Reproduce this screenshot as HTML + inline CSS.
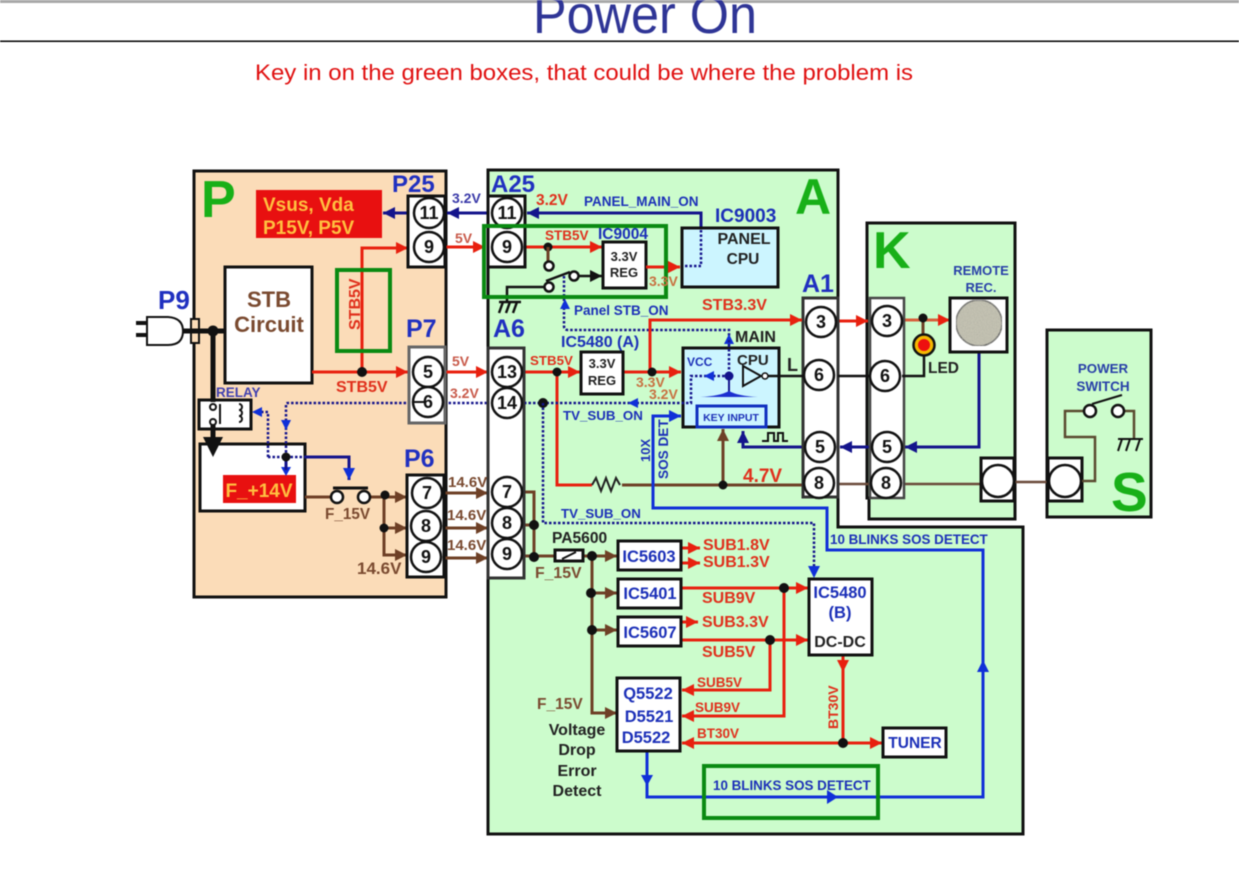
<!DOCTYPE html>
<html><head><meta charset="utf-8"><style>
html,body{margin:0;padding:0;background:#fff;width:1239px;height:872px;overflow:hidden}
svg{display:block;position:absolute;left:0;top:0;filter:blur(.4px)}
text{font-family:"Liberation Sans",sans-serif}
.b{font-weight:bold}
.bl{fill:#1c30b8;font-weight:bold}
.rd{fill:#e0301c;font-weight:bold}
.br{fill:#7a4a30;font-weight:bold}
.k{fill:#222;font-weight:bold}
.big{fill:#18b018;font-weight:bold}
.hd{fill:#2030c0;font-weight:bold;font-size:25px}
.c circle{fill:#fff;stroke:#111;stroke-width:2.5}
.c text{font-weight:bold;font-size:18px;text-anchor:middle;fill:#111}
.box{fill:#fff;stroke:#111;stroke-width:3}
.m{text-anchor:middle}
.R{stroke:#e8200f;stroke-width:3;fill:none}
.N{stroke:#14148c;stroke-width:3;fill:none}
.B{stroke:#1030d8;stroke-width:3;fill:none}
.W{stroke:#6e4026;stroke-width:3;fill:none}
.K{stroke:#111;stroke-width:2.5;fill:none}
.Dot{stroke:#14148c;stroke-width:2.5;stroke-dasharray:2.5 2;fill:none}
.G{fill:none;stroke:#0a8a12;stroke-width:4}
</style></head><body>
<svg width="1239" height="872" viewBox="0 0 1239 872" xmlns="http://www.w3.org/2000/svg">
<defs>
<marker id="mr" viewBox="0 0 10 10" refX="10" refY="5" markerUnits="userSpaceOnUse" markerWidth="12" markerHeight="13" orient="auto"><path d="M0 0L10 5L0 10z" fill="#e8200f"/></marker>
<marker id="mn" viewBox="0 0 10 10" refX="10" refY="5" markerUnits="userSpaceOnUse" markerWidth="12" markerHeight="13" orient="auto"><path d="M0 0L10 5L0 10z" fill="#14148c"/></marker>
<marker id="mb" viewBox="0 0 10 10" refX="10" refY="5" markerUnits="userSpaceOnUse" markerWidth="12" markerHeight="13" orient="auto"><path d="M0 0L10 5L0 10z" fill="#1030d8"/></marker>
<marker id="mw" viewBox="0 0 10 10" refX="10" refY="5" markerUnits="userSpaceOnUse" markerWidth="12" markerHeight="13" orient="auto"><path d="M0 0L10 5L0 10z" fill="#6e4026"/></marker>
<marker id="mk" viewBox="0 0 10 10" refX="10" refY="5" markerUnits="userSpaceOnUse" markerWidth="12" markerHeight="13" orient="auto"><path d="M0 0L10 5L0 10z" fill="#111"/></marker>
<filter id="speck" x="0" y="0" width="100%" height="100%"><feTurbulence type="fractalNoise" baseFrequency="0.9" numOctaves="2" seed="4"/><feColorMatrix values="0 0 0 0 .42  0 0 0 0 .42  0 0 0 0 .36  1.6 0 0 0 -.55"/><feComposite in2="SourceAlpha" operator="in" result="n"/><feMerge><feMergeNode in="SourceGraphic"/><feMergeNode in="n"/></feMerge></filter>
</defs>

<!-- header -->
<rect x="0" y="0" width="1239" height="3" fill="#a8a8a8"/>
<text x="533" y="33" font-size="54" fill="#2f3596" textLength="224" lengthAdjust="spacingAndGlyphs">Power On</text>
<rect x="0" y="40.5" width="1239" height="1.5" fill="#000"/>
<text x="255" y="80" font-size="22" fill="#e01010" textLength="658" lengthAdjust="spacingAndGlyphs">Key in on the green boxes, that could be where the problem is</text>

<!-- panels -->
<rect x="194" y="171" width="252" height="426" fill="#fbdcb8" stroke="#111" stroke-width="3"/>
<path d="M488 170H838V527H1023V834H488Z" fill="#ccfccc" stroke="#111" stroke-width="3"/>
<path d="M867 223H1015V519H869V498H867Z" fill="#ccfccc" stroke="#111" stroke-width="3"/>
<rect x="1047" y="330" width="104" height="187" fill="#ccfccc" stroke="#111" stroke-width="3"/>

<text x="201" y="217" font-size="52" class="big">P</text>
<text x="795" y="214" font-size="50" class="big">A</text>
<text x="873" y="268" font-size="52" class="big">K</text>
<text x="1111" y="511" font-size="55" class="big">S</text>

<!-- P panel boxes -->
<rect x="256" y="190" width="126" height="48" fill="#e81010"/>
<text x="263" y="211" font-size="19" class="b" fill="#ffc040">Vsus, Vda</text>
<text x="263" y="234" font-size="19" class="b" fill="#ffc040">P15V, P5V</text>
<rect x="225" y="267" width="87" height="116" class="box"/>
<text x="269" y="307" font-size="22" class="br m">STB</text>
<text x="269" y="332" font-size="22" class="br m">Circuit</text>
<rect x="200" y="444" width="105" height="67" class="box"/>
<rect x="223" y="475" width="73" height="28" fill="#e81010"/>
<text x="259" y="497" font-size="19" class="b m" fill="#ffc040">F_+14V</text>
<rect x="199" y="400" width="52" height="29" class="box"/>
<text x="216" y="397" font-size="13.5" class="b" fill="#4040b0">RELAY</text>

<!-- plug -->
<path d="M136 323H147M136 335H147" stroke="#111" stroke-width="4"/>
<path d="M147 317H168Q183 318 183 331Q183 345 168 345H147Z" fill="#fff" stroke="#111" stroke-width="2"/>
<rect x="191" y="319" width="8" height="24" fill="#fbdcb8" stroke="#111" stroke-width="2"/>
<path d="M183 331H225M213 331V402" stroke="#111" stroke-width="5" fill="none"/>
<circle cx="213" cy="331" r="5.5" fill="#111"/>
<circle cx="213" cy="407" r="3" fill="#fff" stroke="#111" stroke-width="2"/>
<circle cx="213" cy="422" r="3" fill="#fff" stroke="#111" stroke-width="2"/>
<path d="M220 404V424" stroke="#111" stroke-width="2"/>
<path d="M239 404a3 3 0 0 1 0 6a3 3 0 0 1 0 6a3 3 0 0 1 0 6" fill="none" stroke="#111" stroke-width="2"/>
<path d="M213 425V440" stroke="#111" stroke-width="5"/>
<path d="M203 437H223L213 457Z" fill="#111"/>

<!-- dotted / blue in P -->
<g class="Dot">
<path d="M286 457V404Q286 403 288 403H488"/>
<path d="M268 457V412H255"/>
<path d="M268 457H305"/>
</g>
<path d="M252 412L262 407V417Z" fill="#1030d8"/>
<path d="M281 420H291L286 430Z" fill="#1030d8"/>
<path d="M281 467H291L286 476Z" fill="#1030d8"/>
<path d="M286 457V470" class="N"/>
<path d="M305 457H349V480" class="N" marker-end="url(#mb)"/>

<!-- red -->
<g class="R" marker-end="url(#mr)">
<path d="M312 372H408"/>
<path d="M362 372V248H408"/>
<path d="M445 247H485"/>
<path d="M445 372H488"/>
<path d="M525 247H602"/>
<path d="M646 267H680"/>
<path d="M525 372H580"/>
<path d="M623 372H681"/>
<path d="M838 321H868"/>
<path d="M681 548H700"/>
<path d="M681 563H700"/>
<path d="M681 622H698"/>
<path d="M681 588H808"/>
<path d="M681 640H808"/>
<path d="M784 588V716H682"/>
<path d="M770 640V690H682"/>
<path d="M843 655V672"/>
<path d="M843 743H882"/>
<path d="M843 743H682"/>
</g>
<path d="M843 655V743" class="R"/>
<path d="M557 372V485H592" class="R"/>
<path d="M902 320H950" stroke="#d8603c" stroke-width="3" fill="none" marker-end="url(#mr)"/>

<!-- navy -->
<g class="N" marker-end="url(#mn)">
<path d="M488 213H447"/>
<path d="M408 213H383"/>
<path d="M701 230V213H527"/>
<path d="M979 352V447H905"/>
<path d="M870 447H840"/>
<path d="M803 447H743V431"/>
</g>

<!-- brown -->
<g class="W" marker-end="url(#mw)">
<path d="M370 497H407"/>
<path d="M384 497V528H407"/>
<path d="M384 528V555H407"/>
<path d="M444 493H488"/>
<path d="M444 528H488"/>
<path d="M444 558H488"/>
<path d="M723 485V429"/>
<path d="M583 556H617"/>
<path d="M592 593H617"/>
<path d="M592 630H617"/>
<path d="M592 556V713H617"/>
</g>
<path d="M305 497H331" class="W"/>
<circle cx="337" cy="497" r="6" fill="#fff" stroke="#111" stroke-width="2.5"/>
<circle cx="364" cy="497" r="6" fill="#fff" stroke="#111" stroke-width="2.5"/>
<path d="M333 488H368" stroke="#111" stroke-width="3"/>
<path d="M525 492H534V557M525 525H534M525 556H556" class="W"/>
<path d="M622 485H803" class="W"/>
<path d="M838 484H870M902 484H981M1014 482H1047" stroke="#6a4a3a" stroke-width="2.5" fill="none"/>

<!-- connectors boxes -->
<rect x="408" y="196" width="37" height="71" class="box"/>
<rect x="409" y="347" width="36" height="76" fill="#fff" stroke="#666" stroke-width="3"/>
<rect x="407" y="475" width="37" height="102" class="box"/>
<rect x="488" y="196" width="37" height="71" class="box"/>
<rect x="488" y="348" width="36" height="230" fill="#fff" stroke="#333" stroke-width="3"/>
<rect x="803" y="298" width="35" height="199" fill="#fff" stroke="#333" stroke-width="3"/>
<rect x="870" y="298" width="34" height="200" fill="#fff" stroke="#444" stroke-width="2.5"/>
<rect x="981" y="458" width="33" height="43" class="box"/>
<rect x="1048" y="458" width="34" height="43" class="box"/>
<circle cx="998" cy="481" r="16" fill="#fff" stroke="#111" stroke-width="2.5"/>
<circle cx="1065" cy="481" r="16" fill="#fff" stroke="#111" stroke-width="2.5"/>

<g class="c">
<circle cx="429" cy="213" r="15"/><text x="429" y="219">11</text>
<circle cx="429" cy="247" r="15"/><text x="429" y="253">9</text>
<circle cx="428" cy="372" r="15"/><text x="428" y="378">5</text>
<circle cx="428" cy="402" r="15"/><text x="428" y="408">6</text>
<circle cx="427" cy="493" r="15"/><text x="427" y="499">7</text>
<circle cx="426" cy="526" r="15"/><text x="426" y="532">8</text>
<circle cx="426" cy="557" r="15"/><text x="426" y="563">9</text>
<circle cx="507" cy="213" r="15"/><text x="507" y="219">11</text>
<circle cx="507" cy="247" r="15"/><text x="507" y="253">9</text>
<circle cx="507" cy="372" r="15"/><text x="507" y="378">13</text>
<circle cx="507" cy="403" r="15"/><text x="507" y="409">14</text>
<circle cx="507" cy="492" r="15"/><text x="507" y="498">7</text>
<circle cx="507" cy="523" r="15"/><text x="507" y="529">8</text>
<circle cx="507" cy="554" r="15"/><text x="507" y="560">9</text>
<circle cx="821" cy="322" r="15"/><text x="821" y="328">3</text>
<circle cx="819" cy="375" r="15"/><text x="819" y="381">6</text>
<circle cx="820" cy="447" r="15"/><text x="820" y="453">5</text>
<circle cx="819" cy="483" r="15"/><text x="819" y="489">8</text>
<circle cx="887" cy="321" r="15"/><text x="887" y="327">3</text>
<circle cx="885" cy="376" r="15"/><text x="885" y="382">6</text>
<circle cx="887" cy="447" r="15"/><text x="887" y="453">5</text>
<circle cx="886" cy="483" r="15"/><text x="886" y="489">8</text>
</g>
<path d="M412 402H424" stroke="#111" stroke-width="2"/>

<!-- IC9004 area -->
<circle cx="548" cy="247" r="4.5" fill="#111"/>
<path d="M548 247V262" class="W"/>
<circle cx="549" cy="266" r="4.5" fill="#fff" stroke="#111" stroke-width="2.5"/>
<circle cx="549" cy="287" r="4.5" fill="#fff" stroke="#111" stroke-width="2.5"/>
<circle cx="574" cy="276" r="4.5" fill="#fff" stroke="#111" stroke-width="2.5"/>
<path d="M546 281L570 272" stroke="#111" stroke-width="2.5"/>
<path d="M579 276H602" class="K" marker-end="url(#mk)"/>
<path d="M544 287H507V301" class="K"/>
<path d="M499 302H521M503 302L499 313M510 302L506 313M517 302L513 313" class="K" stroke-width="2"/>
<rect x="603" y="242" width="43" height="46" class="box"/>
<text x="624" y="261" font-size="13" class="k m">3.3V</text>
<text x="624" y="277" font-size="13" class="k m">REG</text>
<rect x="682" y="228" width="96" height="59" fill="#ccf5ff" stroke="#111" stroke-width="3"/>
<path d="M701 230V266H684" class="Dot"/>
<text x="744" y="244" font-size="16" class="k m">PANEL</text>
<text x="743" y="264" font-size="15.5" class="k m">CPU</text>
<path d="M646 267H680" class="R" marker-end="url(#mr)"/>

<!-- Panel STB_ON dotted -->
<path d="M564 276V326Q564 330 568 330H729V375" class="Dot"/>
<path d="M560 309L565 299L570 309Z" fill="#1030d8"/>
<path d="M724 344L729 334L734 344Z" fill="#1030d8"/>
<path d="M650 372V320H802" class="R" marker-end="url(#mr)"/>

<!-- REG 2 -->
<rect x="581" y="352" width="42" height="42" class="box"/>
<text x="602" y="368" font-size="13" class="k m">3.3V</text>
<text x="602" y="385" font-size="13" class="k m">REG</text>

<!-- MAIN CPU -->
<rect x="683" y="348" width="96" height="79" fill="#ccf5ff" stroke="#111" stroke-width="3"/>
<rect x="697" y="406" width="69" height="21" fill="#ccf5ff" stroke="#1030c0" stroke-width="3"/>
<text x="731" y="421" font-size="10.5" class="bl m">KEY INPUT</text>
<text x="687" y="366" font-size="12" class="bl">VCC</text>
<text x="737" y="365" font-size="15" class="k">CPU</text>
<text x="735" y="342" font-size="16" class="k">MAIN</text>
<path d="M743 366V386L761 376Z" fill="#ccf5ff" stroke="#111" stroke-width="2"/>
<circle cx="765" cy="376" r="3" fill="#fff" stroke="#111" stroke-width="1.5"/>
<path d="M768 376H803" class="K"/>
<text x="787" y="371" font-size="18" class="k">L</text>
<path d="M729 376H691V403H525" class="Dot"/>
<path d="M729 340V375" class="Dot"/>
<path d="M704 376L714 371V381Z" fill="#1030d8"/>
<path d="M628 403L638 398V408Z" fill="#1030d8"/>
<circle cx="729" cy="376" r="4.5" fill="#14148c"/>
<path d="M729 376V392" stroke="#14148c" stroke-width="2"/>
<path d="M700 397Q720 396 729 391Q738 396 758 397Z" fill="#1c30d0"/>
<circle cx="543" cy="403" r="5" fill="#111"/>
<path d="M543 403V523H814V578" class="Dot" stroke="#1838c0" marker-end="url(#mb)"/>

<!-- resistor -->
<path d="M592 485L596 478L601 491L606 478L611 491L616 478L620 485" stroke="#222" stroke-width="2" fill="none"/>

<!-- SOS loop -->
<path d="M647 751V797H983V550H827V508H653V416H681" class="B" marker-end="url(#mb)"/>
<path d="M641 775H653L647 786Z" fill="#1030d8"/>
<path d="M827 790V804L838 797Z" fill="#1030d8"/>
<path d="M977 672H989L983 660Z" fill="#1030d8"/>

<!-- pulse -->
<path d="M762 441H768V433H774V441H778V433H783V441H788" stroke="#111" stroke-width="2" fill="none"/>

<!-- bottom ICs -->
<rect x="555" y="550" width="28" height="11" class="box"/>
<path d="M562 559L576 552" stroke="#111" stroke-width="2"/>
<rect x="618" y="541" width="63" height="29" class="box"/>
<rect x="618" y="579" width="63" height="29" class="box"/>
<rect x="618" y="617" width="63" height="29" class="box"/>
<rect x="617" y="678" width="63" height="73" class="box"/>
<rect x="809" y="579" width="63" height="76" class="box"/>
<rect x="883" y="728" width="63" height="29" class="box"/>
<text x="649" y="562" font-size="16.5" class="bl m">IC5603</text>
<text x="650" y="599" font-size="16.5" class="bl m">IC5401</text>
<text x="650" y="638" font-size="16.5" class="bl m">IC5607</text>
<text x="648" y="699" font-size="16.5" class="bl m">Q5522</text>
<text x="649" y="722" font-size="16.5" class="bl m">D5521</text>
<text x="646" y="743" font-size="16.5" class="bl m">D5522</text>
<text x="840" y="598" font-size="16.5" class="bl m">IC5480</text>
<text x="840" y="618" font-size="16.5" class="bl m">(B)</text>
<text x="840" y="647" font-size="16" class="k m">DC-DC</text>
<text x="915" y="748" font-size="15.5" class="bl m">TUNER</text>

<!-- K / S parts -->
<path d="M838 376H870M902 376H924V356" class="K"/>
<path d="M923 319V334" class="W"/>
<circle cx="924" cy="345" r="10.5" fill="#f5b800" stroke="#111" stroke-width="2.5"/>
<circle cx="924" cy="345" r="6" fill="#ee1010"/>
<text x="928" y="373" font-size="15.5" class="k">LED</text>
<rect x="950" y="298" width="57" height="54" class="box"/>
<circle cx="979" cy="323" r="23" fill="#c6c4b4" stroke="#666" stroke-width="1.5" filter="url(#speck)"/>
<text x="981" y="275" font-size="13" class="b m" fill="#2840a8">REMOTE</text>
<text x="981" y="292" font-size="13" class="b m" fill="#2840a8">REC.</text>
<text x="1103" y="373" font-size="13.3" class="b m" fill="#2840a8">POWER</text>
<text x="1103" y="391" font-size="13.5" class="b m" fill="#2840a8">SWITCH</text>
<path d="M1082 481H1095V437H1065V411H1084M1124 411H1134V438" stroke="#5a4a30" stroke-width="2.5" fill="none"/>
<circle cx="1090" cy="411" r="6" fill="#fff" stroke="#111" stroke-width="2.5"/>
<circle cx="1118" cy="411" r="6" fill="#fff" stroke="#111" stroke-width="2.5"/>
<path d="M1092 404L1122 395" stroke="#111" stroke-width="2"/>
<path d="M1118 439H1143M1122 439L1118 451M1130 439L1126 451M1140 439L1136 451" stroke="#111" stroke-width="2" fill="none"/>

<!-- dots -->
<g fill="#111">
<circle cx="362" cy="372" r="5"/>
<circle cx="286" cy="457" r="4.5"/>
<circle cx="385" cy="495" r="4.5"/>
<circle cx="384" cy="528" r="4.5"/>
<circle cx="557" cy="372" r="4.5"/>
<circle cx="652" cy="372" r="4.5"/>
<circle cx="723" cy="485" r="4.5"/>
<circle cx="534" cy="525" r="5"/>
<circle cx="534" cy="557" r="5"/>
<circle cx="592" cy="556" r="5"/>
<circle cx="591" cy="593" r="5"/>
<circle cx="592" cy="630" r="5"/>
<circle cx="784" cy="588" r="5"/>
<circle cx="770" cy="640" r="5"/>
<circle cx="843" cy="743" r="5"/>
<circle cx="923" cy="318" r="4.5"/>
</g>

<!-- green highlight rects -->
<rect x="337" y="270" width="53" height="81" class="G"/>
<rect x="484" y="226" width="182" height="71" class="G"/>
<rect x="704" y="766" width="174" height="52" class="G"/>

<!-- headings -->
<text x="392" y="192" class="hd" style="font-size:24px">P25</text>
<text x="406" y="337" class="hd">P7</text>
<text x="404" y="467" class="hd">P6</text>
<text x="158" y="309" class="hd" style="font-size:26px">P9</text>
<text x="491" y="192" class="hd" style="font-size:24px">A25</text>
<text x="493" y="337" class="hd">A6</text>
<text x="802" y="292" class="hd">A1</text>
<text x="598" y="239" font-size="15.5" class="bl">IC9004</text>
<text x="715" y="222" font-size="19" class="bl">IC9003</text>
<text x="561" y="347" font-size="16" class="bl">IC5480 (A)</text>

<!-- voltage labels -->
<text x="452" y="203" font-size="14" class="b" fill="#3838a8">3.2V</text>
<text x="455" y="243" font-size="14" class="b" fill="#c85a4a">5V</text>
<text x="452" y="366" font-size="14" class="b" fill="#c85a4a">5V</text>
<text x="450" y="398" font-size="14" class="b" fill="#c85a4a">3.2V</text>
<text x="336" y="392" font-size="16" class="rd">STB5V</text>
<text x="0" y="0" font-size="16" class="rd" transform="translate(360,330) rotate(-90)">STB5V</text>
<text x="325" y="519" font-size="15.3" class="br">F_15V</text>
<text x="357" y="574" font-size="17" class="br">14.6V</text>
<text x="448" y="487" font-size="15" class="br">14.6V</text>
<text x="447" y="520" font-size="15" class="br">14.6V</text>
<text x="447" y="550" font-size="15" class="br">14.6V</text>
<text x="536" y="205" font-size="15.5" class="rd">3.2V</text>
<text x="584" y="206" font-size="13.5" class="bl">PANEL_MAIN_ON</text>
<text x="545" y="240" font-size="13.5" class="rd">STB5V</text>
<text x="649" y="286" font-size="14" class="b" fill="#c87040">3.3V</text>
<text x="574" y="315" font-size="13.5" class="bl">Panel STB_ON</text>
<text x="702" y="310" font-size="16" class="rd">STB3.3V</text>
<text x="530" y="365" font-size="13.3" class="rd">STB5V</text>
<text x="636" y="387" font-size="14" class="b" fill="#c87040">3.3V</text>
<text x="649" y="399" font-size="14" class="b" fill="#c87040">3.2V</text>
<text x="563" y="420" font-size="13.3" class="bl">TV_SUB_ON</text>
<text x="561" y="518" font-size="13.3" class="bl">TV_SUB_ON</text>
<text x="743" y="482" font-size="19" class="rd">4.7V</text>
<text x="0" y="0" font-size="13" class="bl" transform="translate(650,462) rotate(-90)">10X</text>
<text x="0" y="0" font-size="13.6" class="bl" transform="translate(668,479) rotate(-90)">SOS DET</text>
<text x="552" y="543" font-size="15.6" class="k">PA5600</text>
<text x="535" y="578" font-size="15.8" class="br">F_15V</text>
<text x="537" y="709" font-size="15.5" class="br">F_15V</text>
<text x="830" y="544" font-size="13.4" class="bl">10 BLINKS SOS DETECT</text>
<text x="713" y="790" font-size="13.4" class="bl">10 BLINKS SOS DETECT</text>
<text x="703" y="550" font-size="16" class="rd">SUB1.8V</text>
<text x="703" y="567" font-size="16" class="rd">SUB1.3V</text>
<text x="702" y="603" font-size="16" class="rd">SUB9V</text>
<text x="702" y="627" font-size="16" class="rd">SUB3.3V</text>
<text x="702" y="657" font-size="16" class="rd">SUB5V</text>
<text x="697" y="687" font-size="13.5" class="rd">SUB5V</text>
<text x="695" y="712" font-size="13.5" class="rd">SUB9V</text>
<text x="697" y="738" font-size="13.5" class="rd">BT30V</text>
<text x="0" y="0" font-size="14" class="rd" transform="translate(838,729) rotate(-90)">BT30V</text>
<text x="577" y="735" font-size="16" class="k m">Voltage</text>
<text x="577" y="755" font-size="16" class="k m">Drop</text>
<text x="577" y="776" font-size="16" class="k m">Error</text>
<text x="577" y="796" font-size="16" class="k m">Detect</text>
</svg>
</body></html>
